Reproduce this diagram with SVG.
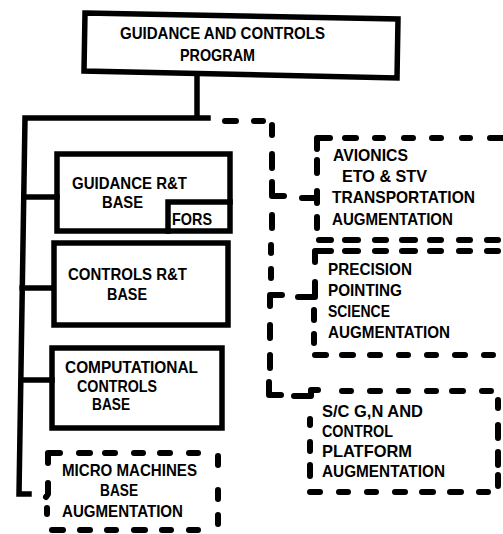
<svg xmlns="http://www.w3.org/2000/svg" width="503" height="534" viewBox="0 0 503 534">
  <style>
    .solid { fill: none; stroke: #000; stroke-width: 5.5; stroke-linejoin: miter; stroke-linecap: square; }
    .dash { fill: none; stroke: #000; stroke-width: 6; stroke-linecap: round; stroke-linejoin: round; }
    text { font-family: "Liberation Sans", Arial, sans-serif; font-weight: bold; font-size: 16.5px; fill: #000; }
  </style>
  <rect width="503" height="534" fill="#fff"/>

  <!-- connectors -->
  <g id="connectors">
    <!-- solid tree from program box to the base boxes -->
    <path class="solid" d="M197,76 V118 M25,118 H208 M25,118 L19,494 H29 M24,197 H57 M22,288 H53 M21,380 H52"/>
    <!-- dashed tree to the augmentation boxes -->
    <path class="dash" d="M225,121 H236 M254,121 H263
      M272,125 V135 M272,154 V168 M272,182 V196 H284
      M272,215 V228 M271,245 V253 M271,269 V278
      M282,295 H270 V306 M270,325 V338 M270,355 V368
      M269,382 V395 H281
      M302,198 H316
      M298,297 H315 V282
      M294,396 H311 V390 H318"/>
  </g>

  <!-- top: program -->
  <g id="program">
    <polygon class="solid" points="85,13 398,19 397,78 84,71"/>
    <text x="120" y="39" textLength="205" lengthAdjust="spacingAndGlyphs">GUIDANCE AND CONTROLS</text>
    <text x="180" y="61" textLength="75" lengthAdjust="spacingAndGlyphs">PROGRAM</text>
  </g>

  <g id="guidance-base">
    <rect class="solid" x="57" y="154" width="173" height="77"/>
    <text x="72" y="189" textLength="115" lengthAdjust="spacingAndGlyphs">GUIDANCE R&amp;T</text>
    <text x="102" y="208" textLength="41" lengthAdjust="spacingAndGlyphs">BASE</text>
  </g>

  <g id="fors">
    <path class="solid" d="M168,231 V202 H230"/>
    <text x="172" y="225" textLength="40" lengthAdjust="spacingAndGlyphs">FORS</text>
  </g>

  <g id="controls-base">
    <rect class="solid" x="54" y="243" width="174" height="82"/>
    <text x="68" y="280" textLength="119" lengthAdjust="spacingAndGlyphs">CONTROLS R&amp;T</text>
    <text x="107" y="300" textLength="40" lengthAdjust="spacingAndGlyphs">BASE</text>
  </g>

  <g id="computational-base">
    <rect class="solid" x="52" y="348" width="170" height="80"/>
    <text x="65" y="373" textLength="133" lengthAdjust="spacingAndGlyphs">COMPUTATIONAL</text>
    <text x="77" y="392" textLength="80" lengthAdjust="spacingAndGlyphs">CONTROLS</text>
    <text x="92" y="410" textLength="38" lengthAdjust="spacingAndGlyphs">BASE</text>
  </g>

  <g id="micro-machines">
    <path class="dash" d="M48,463 V453 H60 M79,453 H90 M105,453 H115 M134,453 H143 M160,453 H170 M189,453 H198
      M218,456 V465 M218,490 V499 M218,515 V524
      M48,483 V494 L46,497 M47,508 V514
      M52,530 H63 M80,530 H90 M107,530 H116 M134,530 H145 M162,530 H171 M189,530 H198"/>
    <text x="62" y="476" textLength="135" lengthAdjust="spacingAndGlyphs">MICRO MACHINES</text>
    <text x="100" y="496" textLength="38" lengthAdjust="spacingAndGlyphs">BASE</text>
    <text x="62" y="517" textLength="121" lengthAdjust="spacingAndGlyphs">AUGMENTATION</text>
  </g>

  <g id="avionics">
    <path class="dash" d="M317,149 V138 H330 M345,138 H356 M375,138 H383 M404,138 H413 M432,138 H441 M462,138 H470 M490,138 H503
      M317,160 V173 M317,191 V203 M317,217 V228
      M319,240 H331 M345,240 H358 M375,240 H386 M402,240 H415 M430,240 H441 M459,240 H470 M487,240 H498"/>
    <text x="333" y="161" textLength="75" lengthAdjust="spacingAndGlyphs">AVIONICS</text>
    <text x="342" y="182" textLength="85" lengthAdjust="spacingAndGlyphs">ETO &amp; STV</text>
    <text x="332" y="203" textLength="143" lengthAdjust="spacingAndGlyphs">TRANSPORTATION</text>
    <text x="332" y="225" textLength="121" lengthAdjust="spacingAndGlyphs">AUGMENTATION</text>
  </g>

  <g id="precision-pointing">
    <path class="dash" d="M315,262 V251 H331 M345,251 H358 M375,251 H386 M402,251 H415 M430,251 H441 M459,251 H470 M487,251 H498
      M314,310 V320 M314,334 V343
      M315,355 H326 M342,355 H353 M370,355 H380 M399,355 H408 M427,355 H436 M455,355 H465 M484,355 H493"/>
    <text x="328" y="275" textLength="84" lengthAdjust="spacingAndGlyphs">PRECISION</text>
    <text x="328" y="296" textLength="74" lengthAdjust="spacingAndGlyphs">POINTING</text>
    <text x="328" y="317" textLength="62" lengthAdjust="spacingAndGlyphs">SCIENCE</text>
    <text x="328" y="338" textLength="122" lengthAdjust="spacingAndGlyphs">AUGMENTATION</text>
  </g>

  <g id="platform">
    <path class="dash" d="M342,391 H351 M370,391 H380 M399,391 H408 M427,391 H436 M452,391 H463 M482,391 H491
      M498,400 V408 M498,425 V438 M498,452 V465 M498,475 V486
      M310,419 V425 M310,442 V451 M310,465 V476
      M310,492 H320 M339,492 H348 M367,492 H376 M395,492 H405 M422,492 H433 M450,492 H461 M479,492 H488"/>
    <text x="322" y="417" textLength="101" lengthAdjust="spacingAndGlyphs">S/C G,N AND</text>
    <text x="322" y="437" textLength="71" lengthAdjust="spacingAndGlyphs">CONTROL</text>
    <text x="322" y="457" textLength="90" lengthAdjust="spacingAndGlyphs">PLATFORM</text>
    <text x="322" y="477" textLength="123" lengthAdjust="spacingAndGlyphs">AUGMENTATION</text>
  </g>
</svg>
